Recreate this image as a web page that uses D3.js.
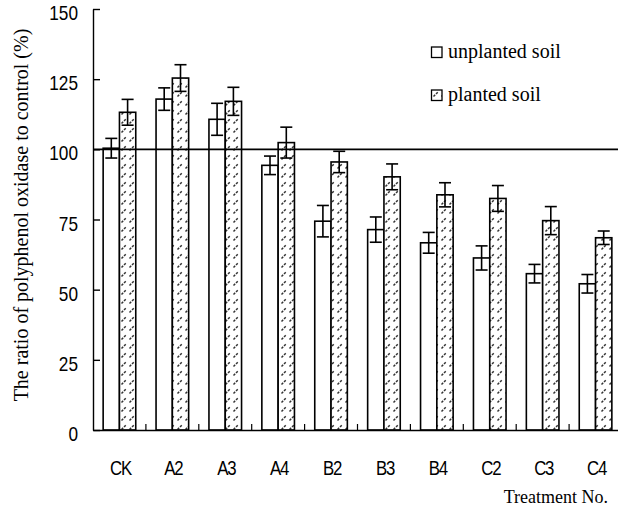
<!DOCTYPE html>
<html>
<head>
<meta charset="utf-8">
<script src="https://cdn.jsdelivr.net/npm/d3@7"></script>
<style>
    body { margin: 0; background: #fff; }
    svg { display: block; }
</style>
</head>
<body>
<svg id="chart" width="618" height="511"></svg>
<script>
// data
const treatments = ['CK', 'A2', 'A3', 'A4', 'B2', 'B3', 'B4', 'C2', 'C3', 'C4'];
const unplanted = [100.4, 117.9, 110.7, 94.3, 74.4, 71.4, 66.7, 61.3, 55.7, 52.1];
const unplantedErr = [3.5, 4.0, 5.7, 3.3, 5.6, 4.5, 3.7, 4.3, 3.3, 3.3];
const planted = [113.2, 125.4, 117.1, 102.4, 95.5, 90.2, 83.8, 82.5, 74.6, 68.5];
const plantedErr = [4.6, 4.75, 5.0, 5.5, 3.8, 4.6, 4.3, 4.6, 5.0, 2.4];
const yTicks = [0, 25, 50, 75, 100, 125, 150];

const svg = d3.select('#chart');
const padL = 93, padR = 622, padT = 9, padB = 430;
const sans = '"Liberation Sans", Arial, sans-serif';
const serif = '"Liberation Serif", "Times New Roman", serif';

const x = d3.scaleBand().domain(treatments).range([padL, padR]).padding(0);
const y = d3.scaleLinear().domain([0, 150]).range([padB, padT]);
const barW = 16.3;

// hatch for planted soil
const pat = svg.append('defs').append('pattern')
    .attr('id', 'hatch')
    .attr('patternUnits', 'userSpaceOnUse')
    .attr('width', 8).attr('height', 9);
pat.append('rect').attr('width', 8).attr('height', 9).attr('fill', '#fff');
pat.append('line')
    .attr('x1', 1.5).attr('y1', 6.5).attr('x2', 6).attr('y2', 2)
    .attr('stroke', '#333').attr('stroke-width', 1.5)
    .attr('stroke-dasharray', '2.4 1.2');

const rows = treatments.map((t, i) => ({
    t, u: unplanted[i], ue: unplantedErr[i], p: planted[i], pe: plantedErr[i]
}));

const g = svg.append('g');

//bars
g.selectAll('.bar-u')
    .data(rows)
    .enter()
    .append('rect')
    .attr('x', d => x(d.t) + x.bandwidth() / 2 - barW)
    .attr('y', d => y(d.u))
    .attr('width', barW)
    .attr('height', d => padB - y(d.u))
    .attr('fill', '#fff').attr('stroke', '#000').attr('stroke-width', 1.6);

g.selectAll('.bar-p')
    .data(rows)
    .enter()
    .append('rect')
    .attr('x', d => x(d.t) + x.bandwidth() / 2)
    .attr('y', d => y(d.p))
    .attr('width', barW)
    .attr('height', d => padB - y(d.p))
    .attr('fill', 'url(#hatch)').attr('stroke', '#000').attr('stroke-width', 1.6);

//error bars
function errorBars(val, err, dx) {
    const e = g.selectAll(null).data(rows).enter().append('g')
        .attr('stroke', '#000').attr('stroke-width', 1.6);
    const cx = d => x(d.t) + x.bandwidth() / 2 + dx;
    e.append('line')
        .attr('x1', cx).attr('x2', cx)
        .attr('y1', d => y(d[val] + d[err])).attr('y2', d => y(d[val] - d[err]));
    e.append('line')
        .attr('x1', d => cx(d) - 6).attr('x2', d => cx(d) + 6)
        .attr('y1', d => y(d[val] + d[err])).attr('y2', d => y(d[val] + d[err]));
    e.append('line')
        .attr('x1', d => cx(d) - 6).attr('x2', d => cx(d) + 6)
        .attr('y1', d => y(d[val] - d[err])).attr('y2', d => y(d[val] - d[err]));
}
errorBars('u', 'ue', -barW / 2);
errorBars('p', 'pe', barW / 2);

// reference line at 100
svg.append('line')
    .attr('x1', padL).attr('x2', 618)
    .attr('y1', y(100)).attr('y2', y(100))
    .attr('stroke', '#000').attr('stroke-width', 1.6);

//axes
const yAxis = svg.append('g')
    .attr('transform', `translate(${padL},0)`)
    .call(d3.axisRight(y).tickValues(yTicks).tickSize(7).tickSizeOuter(0).tickFormat(''));
yAxis.selectAll('path, line').attr('stroke', '#000').attr('stroke-width', 1.4);

// condensed tick labels
svg.selectAll('.ylab')
    .data(yTicks)
    .enter()
    .append('text')
    .attr('transform', d => `translate(78,${y(d) + 11}) scale(0.82,1)`)
    .attr('text-anchor', 'end')
    .style('font-family', sans)
    .style('font-size', '21px')
    .text(d => d);

const xAxis = svg.append('g')
    .attr('transform', `translate(0,${padB})`)
    .call(d3.axisTop(x).tickSize(0).tickSizeOuter(0).tickFormat(''));
xAxis.selectAll('path').attr('stroke', '#000').attr('stroke-width', 1.4);

// inward ticks at category boundaries
svg.selectAll('.xt')
    .data(treatments.slice(1))
    .enter()
    .append('line')
    .attr('x1', d => x(d)).attr('x2', d => x(d))
    .attr('y1', padB).attr('y2', padB - 6)
    .attr('stroke', '#000').attr('stroke-width', 1.2);

svg.selectAll('.xlab')
    .data(treatments)
    .enter()
    .append('text')
    .attr('transform', d => `translate(${x(d) + x.bandwidth() / 2 + 1},475) scale(0.8,1)`)
    .attr('text-anchor', 'middle')
    .style('font-family', sans)
    .style('font-size', '21px')
    .style('letter-spacing', '-1.5px')
    .text(d => d);

// titles
svg.append('text')
    .attr('transform', 'translate(28,215) rotate(-90)')
    .attr('text-anchor', 'middle')
    .style('font-family', serif)
    .style('font-size', '20px')
    .text('The ratio of polyphenol oxidase to control (%)');

svg.append('text')
    .attr('x', 608).attr('y', 503)
    .attr('text-anchor', 'end')
    .style('font-family', serif)
    .style('font-size', '18px')
    .text('Treatment No.');

//legend
const legend = [
    {label: 'unplanted soil', fill: '#fff', y: 58},
    {label: 'planted soil', fill: 'url(#hatch)', y: 101}
];
const lg = svg.selectAll('.legend').data(legend).enter().append('g');
lg.append('rect')
    .attr('x', 431.5).attr('y', d => d.y - 11)
    .attr('width', 10.5).attr('height', 10.5)
    .attr('fill', d => d.fill).attr('stroke', '#000').attr('stroke-width', 1.3);
lg.append('text')
    .attr('x', 448).attr('y', d => d.y)
    .style('font-family', serif)
    .style('font-size', '20px')
    .text(d => d.label);
</script>
</body>
</html>
